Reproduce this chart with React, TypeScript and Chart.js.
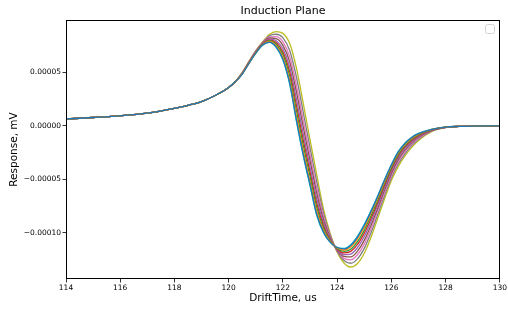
import React, { useEffect, useRef } from 'react';
import { Chart, registerables } from 'chart.js';
Chart.register(...registerables);

// DriftTime (us) sample positions
const xPrefix = [114, 115, 116, 117, 118, 118.5, 119, 119.5, 120, 120.25];
const xCore = [120.5, 120.75, 121, 121.25, 121.5, 121.75, 122, 122.25, 122.5, 122.75, 123, 123.25, 123.5, 123.75, 124, 124.25, 124.5, 124.75, 125, 125.25, 125.5, 125.75, 126, 126.25, 126.5, 126.75, 127, 127.5, 128];
const xSuffix = [128.5, 129, 129.5, 130];

// Response values in units of 1e-6 mV
const yPrefix = [6.5, 7.9, 9.5, 12.0, 16.5, 19.3, 22.8, 28.5, 36.0, 41.5];
const ySuffix = [-0.4, -0.1, 0, 0];

const respBlue = [48.5, 58.6, 68.1, 75.6, 78.4, 73.9, 62.4, 40.1, 5.5, -26.5, -54.7, -82.9, -99.3, -108.8, -113.6, -114.9, -111.6, -103.8, -92.8, -79.8, -65.6, -50.5, -36.5, -24.4, -16.4, -10.8, -7.2, -3.1, -1.0];
const respOrange = [48.7, 58.7, 68.3, 75.8, 78.9, 75.0, 64.2, 42.8, 9.0, -23.1, -51.7, -80.2, -97.8, -108.2, -114.0, -115.9, -113.1, -105.6, -94.7, -81.5, -67.1, -51.8, -37.5, -25.4, -17.2, -11.5, -7.7, -3.2, -1.1];
const respGreen = [48.8, 58.9, 68.5, 76.1, 79.7, 76.4, 66.7, 46.6, 14.0, -18.2, -47.4, -76.4, -95.6, -107.4, -114.4, -117.2, -115.2, -108.1, -97.4, -84.0, -69.2, -53.6, -39.0, -26.8, -18.4, -12.4, -8.3, -3.4, -1.1];
const respRed = [49.0, 59.1, 68.8, 76.4, 80.4, 77.9, 69.1, 50.4, 19.0, -13.3, -43.1, -72.6, -93.4, -106.6, -114.9, -118.6, -117.2, -110.7, -100.1, -86.5, -71.3, -55.4, -40.5, -28.2, -19.6, -13.4, -9.0, -3.6, -1.2];
const respPurple = [49.1, 59.3, 69.1, 76.8, 81.3, 79.7, 72.1, 55.0, 25.0, -7.4, -37.9, -68.0, -90.8, -105.6, -115.4, -120.2, -119.7, -113.7, -103.3, -89.5, -73.8, -57.6, -42.3, -29.9, -21.0, -14.5, -9.7, -3.8, -1.3];
const respBrown = [49.3, 59.6, 69.4, 77.2, 82.2, 81.6, 75.3, 59.9, 31.5, -1.1, -32.4, -63.1, -87.9, -104.6, -116.0, -121.9, -122.4, -117.0, -106.9, -92.8, -76.6, -59.9, -44.3, -31.7, -22.6, -15.7, -10.6, -4.1, -1.3];
const respPink = [49.5, 59.9, 69.7, 77.5, 83.2, 83.5, 78.6, 64.8, 38.0, 5.3, -26.8, -58.2, -85.0, -103.6, -116.6, -123.7, -125.1, -120.3, -110.4, -96.0, -79.3, -62.2, -46.2, -33.5, -24.2, -17.0, -11.4, -4.4, -1.4];
const respGray = [49.7, 60.2, 70.1, 78.0, 84.3, 85.7, 82.3, 70.5, 45.5, 12.7, -20.3, -52.5, -81.7, -102.4, -117.2, -125.7, -128.3, -124.2, -114.4, -99.8, -82.4, -64.9, -48.5, -35.6, -26.0, -18.4, -12.4, -4.7, -1.5];
const respOlive = [50.0, 60.5, 70.5, 78.5, 85.5, 88.2, 86.5, 77.0, 54.0, 21.0, -13.0, -46.0, -78.0, -101.0, -118.0, -128.0, -131.8, -128.5, -119.0, -104.0, -86.0, -68.0, -51.0, -38.0, -28.0, -20.0, -13.5, -5.0, -1.6];
const respCyan = [48.5, 58.5, 68.0, 75.5, 78.2, 73.5, 61.7, 39.0, 4.0, -28.0, -56.0, -84.0, -100.0, -109.0, -113.5, -114.5, -111.0, -103.0, -92.0, -79.0, -65.0, -50.0, -36.0, -24.0, -16.0, -10.5, -7.0, -3.0, -1.0];

const seriesList = [respBlue, respOrange, respGreen, respRed, respPurple, respBrown, respPink, respGray, respOlive, respCyan];
const seriesColors = ['#1f77b4', '#ff7f0e', '#2ca02c', '#d62728', '#9467bd', '#8c564b', '#e377c2', '#7f7f7f', '#bcbd22', '#17becf'];

const xTicks = [114, 116, 118, 120, 122, 124, 126, 128, 130];
const yTicks = [0.00005, 0, -0.00005, -0.0001];

const framePlugin = {
  id: 'frame',
  afterDraw(chart: any) {
    const { ctx, chartArea } = chart;
    ctx.save();
    ctx.strokeStyle = '#000';
    ctx.lineWidth = 1;
    const l = Math.round(chartArea.left) + 0.5;
    const t = Math.round(chartArea.top) + 0.5;
    const r = Math.round(chartArea.right) - 0.5;
    const b = Math.round(chartArea.bottom) - 0.5;
    ctx.strokeRect(l, t, r - l, b - t);
    // empty legend frame (top right)
    const lx = r - 14, ly = t + 4, w = 9, h = 9, rad = 2;
    ctx.strokeStyle = '#d4d4d4';
    ctx.beginPath();
    ctx.moveTo(lx + rad, ly);
    ctx.lineTo(lx + w - rad, ly);
    ctx.quadraticCurveTo(lx + w, ly, lx + w, ly + rad);
    ctx.lineTo(lx + w, ly + h - rad);
    ctx.quadraticCurveTo(lx + w, ly + h, lx + w - rad, ly + h);
    ctx.lineTo(lx + rad, ly + h);
    ctx.quadraticCurveTo(lx, ly + h, lx, ly + h - rad);
    ctx.lineTo(lx, ly + rad);
    ctx.quadraticCurveTo(lx, ly, lx + rad, ly);
    ctx.stroke();
    ctx.restore();
  },
};

export default function App() {
  const canvasRef = useRef<HTMLCanvasElement | null>(null);
  useEffect(() => {
    document.body.style.margin = '0';
    const canvas = canvasRef.current;
    if (!canvas) return;
    const xs = [...xPrefix, ...xCore, ...xSuffix];
    const datasets = seriesList.map((s, i) => {
      const ys = [...yPrefix, ...s, ...ySuffix];
      return {
        label: '',
        data: xs.map((x, k) => ({ x, y: ys[k] * 1e-6 })),
        borderColor: seriesColors[i],
        backgroundColor: seriesColors[i],
        borderWidth: 1.3,
        pointRadius: 0,
        cubicInterpolationMode: 'monotone' as const,
        fill: false,
      };
    });
    const chart = new Chart(canvas, {
      type: 'line',
      data: { datasets },
      plugins: [framePlugin],
      options: {
        animation: false,
        responsive: false,
        devicePixelRatio: 1,
        layout: { padding: { left: 0, right: 8, top: 0, bottom: 0 } },
        plugins: {
          legend: { display: false },
          tooltip: { enabled: false },
          title: {
            display: true,
            text: 'Induction Plane',
            fullSize: false,
            color: '#000',
            font: { family: 'DejaVu Sans', size: 11, weight: 'normal', lineHeight: 1.2 },
            padding: { top: 5, bottom: 1.8 },
          },
        },
        scales: {
          x: {
            type: 'linear',
            min: 114,
            max: 130,
            afterFit: (scale: any) => { scale.height = 30; },
            afterBuildTicks: (scale: any) => { scale.ticks = xTicks.map((v) => ({ value: v })); },
            ticks: {
              color: '#000',
              font: { family: 'DejaVu Sans', size: 7.5 },
              padding: 1,
              maxRotation: 0,
              autoSkip: false,
              callback: (v: any) => String(v),
            },
            grid: { display: true, drawOnChartArea: false, drawTicks: true, tickLength: 3.5, color: '#000', lineWidth: 0.8 },
            border: { display: false },
            title: {
              display: true,
              text: 'DriftTime, us',
              color: '#000',
              font: { family: 'DejaVu Sans', size: 10.5, lineHeight: 1.2 },
              padding: { top: 0, bottom: 4.7 },
            },
          },
          y: {
            type: 'linear',
            min: -0.000143,
            max: 0.000099,
            afterFit: (scale: any) => { scale.width = 66; },
            afterBuildTicks: (scale: any) => { scale.ticks = yTicks.map((v) => ({ value: v })); },
            ticks: {
              color: '#000',
              font: { family: 'DejaVu Sans', size: 7.5 },
              padding: 1.5,
              autoSkip: false,
              callback: (v: any) => {
                const n = Number(v);
                if (Math.abs(n) < 1e-12) return '0.00000';
                const s = n.toFixed(5);
                return s.replace('-', '\u2212');
              },
            },
            grid: { display: true, drawOnChartArea: false, drawTicks: true, tickLength: 3.5, color: '#000', lineWidth: 0.8 },
            border: { display: false },
            title: {
              display: true,
              text: 'Response, mV',
              color: '#000',
              font: { family: 'DejaVu Sans', size: 10.5, lineHeight: 1.2 },
              padding: { top: 7.7, bottom: 0 },
            },
          },
        },
      },
    });
    return () => chart.destroy();
  }, []);
  return (
    <div style={{ position: 'absolute', left: 0, top: 0, width: 508, height: 309 }}>
      <canvas ref={canvasRef} width={508} height={309} style={{ width: 508, height: 309, display: 'block' }} />
    </div>
  );
}
